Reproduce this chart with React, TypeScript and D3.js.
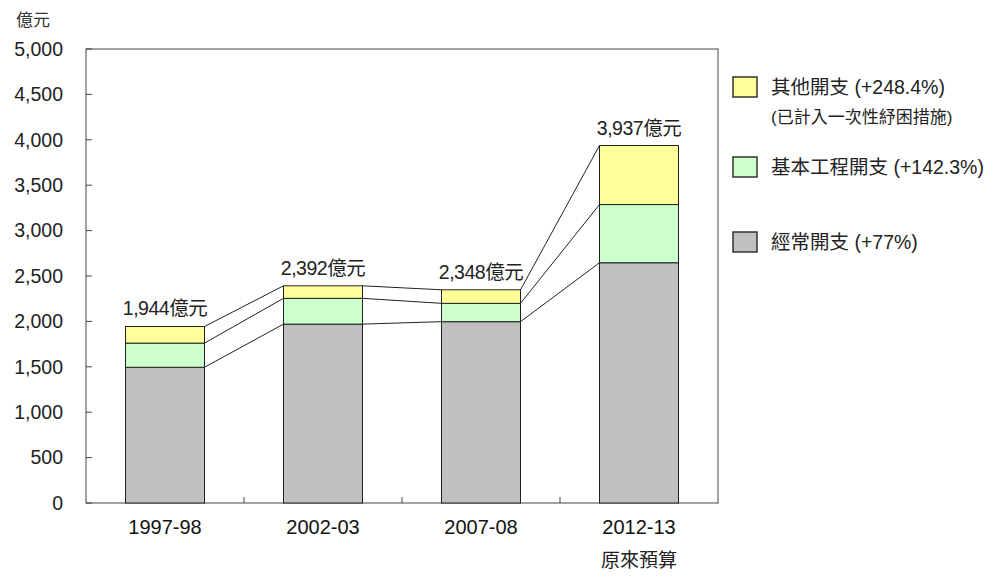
import React from 'react';
import * as d3 from 'd3';

// values in 億元
const years = ['1997-98', '2002-03', '2007-08', '2012-13'];
const totals = [1944, 2392, 2348, 3937];
const recurrent = [1495, 1970, 1997, 2646];
const capital = [266, 284, 202, 641];
const other = totals.map((t, i) => t - recurrent[i] - capital[i]);
const yTicks = [0, 500, 1000, 1500, 2000, 2500, 3000, 3500, 4000, 4500, 5000];

const seriesKeys = ['recurrent', 'capital', 'other'];
const colors: Record<string, string> = {
  recurrent: '#C0C0C0',
  capital: '#CCFFCC',
  other: '#FFFF99',
};

const legendItems = [
  { key: 'other', label: '其他開支 (+248.4%)', sub: '(已計入一次性紓困措施)' },
  { key: 'capital', label: '基本工程開支 (+142.3%)', sub: '' },
  { key: 'recurrent', label: '經常開支 (+77%)', sub: '' },
];

const font = '"Liberation Sans", Arial, "Noto Sans CJK TC", sans-serif';

const App: React.FC = () => {
  const width = 1005;
  const height = 582;
  const left = 86;
  const right = 718;
  const top = 49;
  const bottom = 503;

  const x = d3.scaleBand<string>().domain(years).range([left, right]).paddingInner(0.5).paddingOuter(0.25);
  const y = d3.scaleLinear().domain([0, 5000]).range([bottom, top]);

  const rows = years.map((yr, i) => ({
    year: yr,
    recurrent: recurrent[i],
    capital: capital[i],
    other: other[i],
  }));
  const stack = d3.stack<any>().keys(seriesKeys)(rows);

  const bw = x.bandwidth();
  const step = x.step();

  return (
    <svg width={width} height={height} style={{ position: 'absolute', left: 0, top: 0, fontFamily: font }}>
      <rect x={0} y={0} width={width} height={height} fill="#fff" />
      {/* plot frame */}
      <rect x={left} y={top} width={right - left} height={bottom - top} fill="none" stroke="#444" strokeWidth={1} />

      {/* y ticks */}
      {yTicks.map((t) => (
        <g key={t}>
          <line x1={left} x2={left + 6} y1={y(t)} y2={y(t)} stroke="#444" />
          <text x={63} y={y(t)} dy="0.35em" textAnchor="end" fontSize={19.5} fill="#222">
            {d3.format(',')(t)}
          </text>
        </g>
      ))}
      <text x={33} y={20} dy="0.35em" textAnchor="middle" fontSize={17} fill="#333">億元</text>

      {/* x ticks between categories */}
      {years.slice(1).map((yr) => {
        const bx = (x(yr) as number) - (step - bw) / 2;
        return <line key={yr} x1={bx} x2={bx} y1={bottom} y2={bottom - 6} stroke="#444" />;
      })}

      {/* bars */}
      {stack.map((s) =>
        s.map((d, i) => (
          <rect
            key={s.key + i}
            x={x(years[i])}
            y={y(d[1])}
            width={bw}
            height={y(d[0]) - y(d[1])}
            fill={colors[s.key]}
            stroke="#222"
            strokeWidth={1}
          />
        ))
      )}

      {/* connector lines */}
      {stack.map((s) =>
        s.slice(0, -1).map((d, i) => (
          <line
            key={'c' + s.key + i}
            x1={(x(years[i]) as number) + bw}
            y1={y(d[1])}
            x2={x(years[i + 1])}
            y2={y(s[i + 1][1])}
            stroke="#222"
            strokeWidth={1}
          />
        ))
      )}

      {/* total labels */}
      {totals.map((t, i) => (
        <text
          key={'t' + i}
          x={(x(years[i]) as number) + bw / 2}
          y={y(t) - 11}
          textAnchor="middle"
          fontSize={19.5}
          fill="#222"
          letterSpacing={-0.5}
        >
          {d3.format(',')(t)}億元
        </text>
      ))}

      {/* x labels */}
      {years.map((yr) => (
        <text key={yr} x={(x(yr) as number) + bw / 2} y={527} dy="0.35em" textAnchor="middle" fontSize={20} fill="#111">
          {yr}
        </text>
      ))}
      <text x={(x(years[3]) as number) + bw / 2} y={560} dy="0.35em" textAnchor="middle" fontSize={19} fill="#222">
        原來預算
      </text>

      {/* legend */}
      {legendItems.map((it, i) => {
        const ly = [87, 167, 242][i];
        return (
          <g key={it.key}>
            <rect x={733} y={ly - 10} width={24} height={20} fill={colors[it.key]} stroke="#333" strokeWidth={1.5} />
            <text x={771} y={ly} dy="0.35em" fontSize={19.5} fill="#222">{it.label}</text>
            {it.sub && (
              <text x={771} y={ly + 30} dy="0.35em" fontSize={17} fill="#222">{it.sub}</text>
            )}
          </g>
        );
      })}
    </svg>
  );
};

export default App;
